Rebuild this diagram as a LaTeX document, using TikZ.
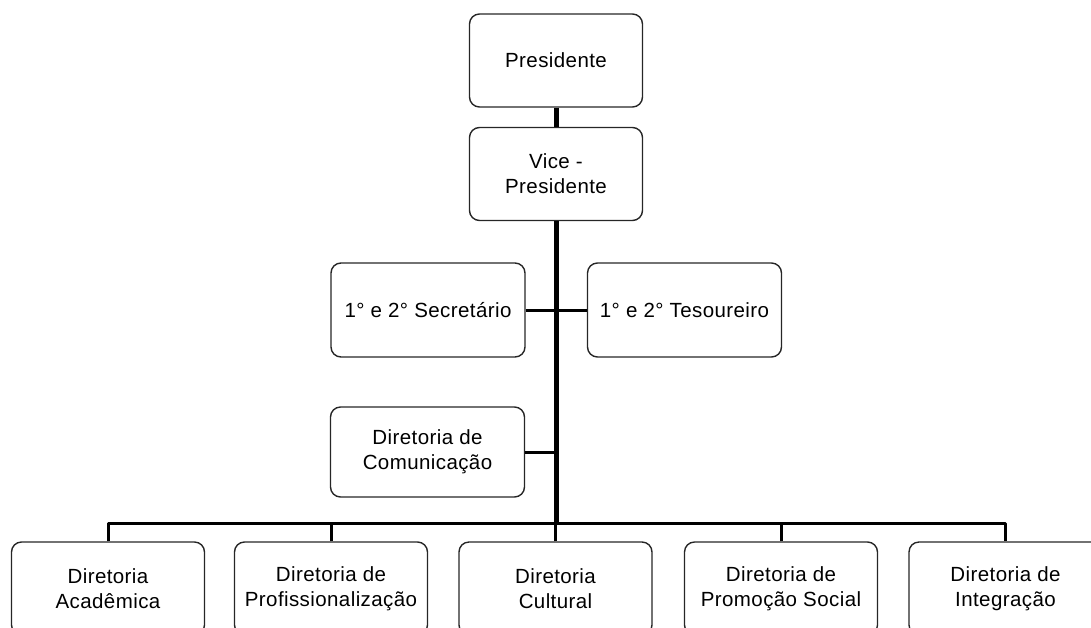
\documentclass[tikz,border=0pt]{standalone}
\usepackage{fontspec}
\setmainfont{Liberation Sans}[LetterSpace=2]
\begin{document}
\begin{tikzpicture}[x=1pt,y=-1pt,join=round, % organograma
       cargo/.style={draw=black!85,line width=1.4pt,rounded corners=10pt,align=center,inner sep=0pt,
                     font=\fontsize{20.5}{25}\selectfont},
       topo/.style={cargo,minimum width=173pt,minimum height=93pt},
       lado/.style={cargo,minimum width=194pt,minimum height=94pt},
       base/.style={cargo,minimum width=193pt,minimum height=93pt},
       tronco/.style={line width=5pt},
       ramo/.style={line width=3pt}]
       \useasboundingbox (0,0) rectangle (1091,627);
       \clip (0,0) rectangle (1091,627);
       \node[topo] (pres) at (556,60.5) {Presidente};
       \node[topo] (vice) at (556,174) {Vice -\\Presidente};
       \node[lado] (sec) at (428,310) {1° e 2° Secretário};
       \node[lado] (tes) at (684.5,310) {1° e 2° Tesoureiro};
       \node[lado,minimum height=90pt] (com) at (427.5,452) {Diretoria de\\Comunicação};
       \node[base] (acad) at (108,588.5) {Diretoria\\Acadêmica};
       \node[base] (prof) at (331,588.5) {Diretoria de\\Profissionalização};
       \node[base] (cult) at (555.5,588.5) {Diretoria\\Cultural};
       \node[base] (promo) at (781,588.5) {Diretoria de\\Promoção Social};
       \node[base] (integ) at (1005.5,588.5) {Diretoria de\\Integração};
       \coordinate (bar) at (556,523);
       \draw[tronco] (pres.south) -- (vice.north);
       \draw[tronco] (vice.south) -- (bar);
       \draw[ramo] (sec.east) -- (tes.west);
       \draw[ramo] (com.east) -- (com.east -| bar);
       \draw[ramo] (acad.north) |- (bar) -| (integ.north);
       \draw[ramo] (prof.north) -- (prof.north |- bar);
       \draw[ramo] (cult.north) -- (cult.north |- bar);
       \draw[ramo] (promo.north) -- (promo.north |- bar);
\end{tikzpicture}
\end{document}
